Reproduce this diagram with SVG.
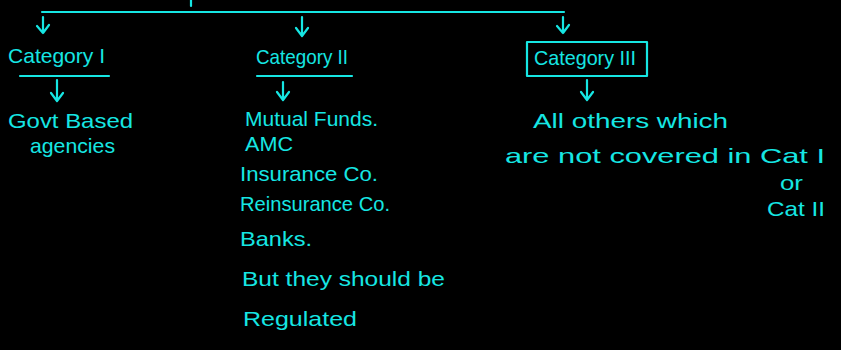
<svg xmlns="http://www.w3.org/2000/svg" width="841" height="350" viewBox="0 0 841 350">
  <defs>
    <style>
      .ln { stroke: #16e6e3; stroke-width: 2.2; fill: none; stroke-linecap: round; stroke-linejoin: round; }
      .tx { fill: #16e6e3; font-family: "Liberation Sans", "DejaVu Sans", sans-serif; font-size: 21px; }
    </style>
  </defs>
  <rect x="0" y="0" width="841" height="350" fill="#000000"/>

  <!-- branch lines and arrows -->
  <g id="connectors">
    <path class="ln" d="M191 0 V6"/>
    <path class="ln" d="M42 12 H564"/>
    <path class="ln" d="M43 17 V33 M37 26 L43 33 L49 25"/>
    <path class="ln" d="M302 17 V36 M296 28 L302 36 L308 28"/>
    <path class="ln" d="M563 17 V33 M557 26 L563 33 L569 25"/>
    <path class="ln" d="M57 80 V101 M51 93 L57 101 L63 93"/>
    <path class="ln" d="M283 82 V100 M277 92 L283 100 L289 92"/>
    <path class="ln" d="M587 80 V100 M581 92 L587 100 L593 92"/>
  </g>

  <g id="category-1">
    <text class="tx" x="8" y="63" textLength="97" lengthAdjust="spacingAndGlyphs">Category I</text>
    <path class="ln" d="M20 76 H109"/>
  </g>

  <g id="category-2">
    <text class="tx" x="256" y="64" textLength="92" lengthAdjust="spacingAndGlyphs">Category II</text>
    <path class="ln" d="M257 76 H352"/>
  </g>

  <g id="category-3">
    <rect class="ln" x="527" y="42" width="120" height="34"/>
    <text class="tx" x="534" y="65" textLength="102" lengthAdjust="spacingAndGlyphs">Category III</text>
  </g>

  <g id="govt">
    <text class="tx" x="8" y="128" textLength="125" lengthAdjust="spacingAndGlyphs">Govt Based</text>
    <text class="tx" x="30" y="153" textLength="85" lengthAdjust="spacingAndGlyphs">agencies</text>
  </g>

  <g id="regulated-list">
    <text class="tx" x="245" y="126" textLength="133" lengthAdjust="spacingAndGlyphs">Mutual Funds.</text>
    <text class="tx" x="245" y="151" textLength="48" lengthAdjust="spacingAndGlyphs">AMC</text>
    <text class="tx" x="240" y="181" textLength="138" lengthAdjust="spacingAndGlyphs">Insurance Co.</text>
    <text class="tx" x="240" y="211" textLength="150" lengthAdjust="spacingAndGlyphs">Reinsurance Co.</text>
    <text class="tx" x="240" y="246" textLength="72" lengthAdjust="spacingAndGlyphs">Banks.</text>
    <text class="tx" x="242" y="286" textLength="203" lengthAdjust="spacingAndGlyphs">But they should be</text>
    <text class="tx" x="243" y="326" textLength="114" lengthAdjust="spacingAndGlyphs">Regulated</text>
  </g>

  <g id="others">
    <text class="tx" x="533" y="128" textLength="195" lengthAdjust="spacingAndGlyphs">All others which</text>
    <text class="tx" x="505" y="163" textLength="320" lengthAdjust="spacingAndGlyphs">are not  covered  in Cat I</text>
    <text class="tx" x="780" y="190" textLength="23" lengthAdjust="spacingAndGlyphs">or</text>
    <text class="tx" x="767" y="216" textLength="58" lengthAdjust="spacingAndGlyphs">Cat II</text>
  </g>
</svg>
